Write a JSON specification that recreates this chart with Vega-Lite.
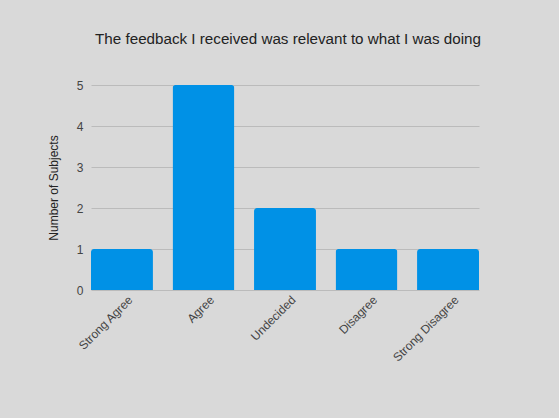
{
  "$schema": "https://vega.github.io/schema/vega-lite/v6.json",
  "autosize": "none",
  "width": 388,
  "height": 205,
  "padding": {"left": 91, "top": 85, "right": 80, "bottom": 128},
  "background": "#d9d9d9",
  "config": {"view": {"stroke": null}, "font": "Liberation Sans"},
  "title": {
    "text": "The feedback I received was relevant to what I was doing",
    "fontSize": 15.2,
    "fontWeight": "normal",
    "color": "#222222",
    "anchor": "middle",
    "offset": 32,
    "dx": 3
  },
  "data": {
    "values": [
      {"response": "Strong Agree", "count": 1},
      {"response": "Agree", "count": 5},
      {"response": "Undecided", "count": 2},
      {"response": "Disagree", "count": 1},
      {"response": "Strong Disagree", "count": 1}
    ]
  },
  "mark": {"type": "bar", "color": "#0091e6", "cornerRadiusTopLeft": 3, "cornerRadiusTopRight": 3},
  "encoding": {
    "x": {
      "field": "response",
      "type": "nominal",
      "sort": null,
      "scale": {"paddingInner": 0.24, "paddingOuter": 0},
      "axis": {
        "title": null,
        "labelAngle": -45,
        "labelFontSize": 12,
        "labelColor": "#444444",
        "ticks": false,
        "domain": false,
        "labelPadding": 4,
        "labelOffset": 5
      }
    },
    "y": {
      "field": "count",
      "type": "quantitative",
      "scale": {"domain": [0, 5]},
      "axis": {
        "title": "Number of Subjects",
        "titleFontSize": 12,
        "titleFontWeight": "normal",
        "titleColor": "#222222",
        "titlePadding": 16,
        "values": [0, 1, 2, 3, 4, 5],
        "labelFontSize": 12,
        "labelColor": "#444444",
        "labelPadding": 8,
        "ticks": false,
        "domain": false,
        "gridColor": "#bbbbbb",
        "gridOpacity": 1
      }
    }
  }
}
